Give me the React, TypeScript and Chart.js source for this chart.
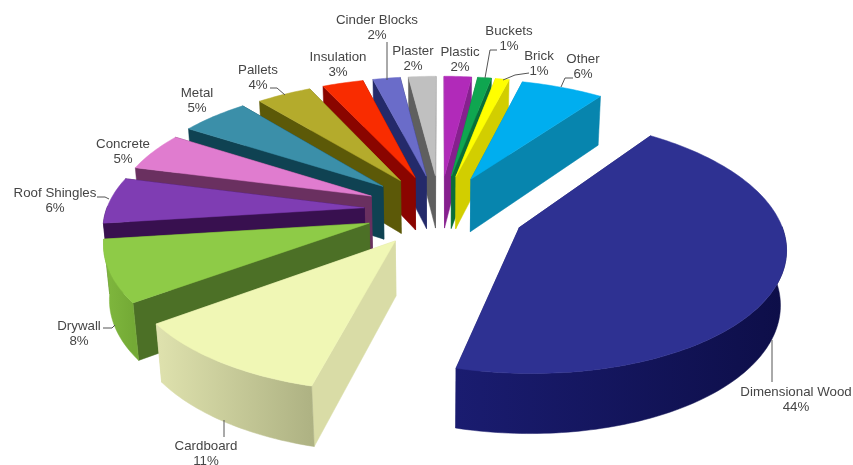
import React, { useEffect, useRef } from "react";
import { Chart, registerables } from "chart.js";

Chart.register(...registerables);

const categories = ["Plastic", "Buckets", "Brick", "Other", "Dimensional Wood", "Cardboard", "Drywall", "Roof Shingles", "Concrete", "Metal", "Pallets", "Insulation", "Cinder Blocks", "Plaster"];
const shares = [2, 1, 1, 6, 44, 11, 8, 6, 5, 5, 4, 3, 2, 2];

const topColors = ["#b12ab9", "#0fa650", "#ffff00", "#00aeef", "#2e3192", "#f0f7b5", "#8ecb47", "#7f3db3", "#e07ccf", "#3b8fa9", "#b4ab2c", "#f92c00", "#6a6cc9", "#c0c0c0"];
const radialWallColors = ["#86208e", "#0a6e38", "#d2ce00", "#0785ae", "#1a1c6a", "#d9dca6", "#4c7026", "#38104f", "#6a3060", "#0f4252", "#5c5908", "#8a0500", "#242a6a", "#5f5f5f"];
const outerWallLeft = ["#86208e", "#0a6e38", "#d2ce00", "#0785ae", "#1a1c70", "#dfe2ae", "#80b83e", "#38104f", "#6a3060", "#0f4252", "#5c5908", "#8a0500", "#242a6a", "#5f5f5f"];
const outerWallRight = ["#86208e", "#0a6e38", "#d2ce00", "#0785ae", "#0d0e48", "#aeb283", "#74aa36", "#38104f", "#6a3060", "#0f4252", "#5c5908", "#8a0500", "#242a6a", "#5f5f5f"];
const explosion = [76, 76, 76, 75, 86, 77, 75, 76, 76, 78, 76, 76, 76, 76];

const labelCenters = [[460, 52], [509, 31], [539, 56], [583, 59], [796, 392], [206, 446], [79, 326], [55, 193], [123, 144], [197, 93], [258, 70], [338, 57], [377, 20], [413, 51]];
const leaderLines: number[][][] = [
  [], [[497, 50], [490, 50], [485, 78]], [[529, 73], [515, 75], [503, 80]], [[573, 78], [565, 78], [561, 87]],
  [[772, 340], [772, 382]], [[224, 420], [224, 437]], [[103, 328], [112, 328], [115, 325]], [[97, 197], [105, 197], [109, 199]],
  [], [], [[270, 88], [277, 88], [285, 95]], [], [[387, 42], [387, 80]], [],
];

const RADIUS = 258;
const DEPTH = 62;
const CAMERA = 1700;
const TILT = Math.asin(0.47);

const pie3d = {
  id: "pie3d",
  beforeDatasetsDraw(chart: any) {
    const ctx: CanvasRenderingContext2D = chart.ctx;
    const arcs = chart.getDatasetMeta(0).data;
    const project = (cx: number, cy: number, u: number, v: number, z: number) => {
      const w = v * Math.cos(TILT) + z * Math.sin(TILT);
      const s = CAMERA / (CAMERA - w);
      return [cx + u * s, cy + (v * Math.sin(TILT) - z * Math.cos(TILT)) * s];
    };
    const poly = (pts: number[][], fill: any) => {
      ctx.beginPath();
      pts.forEach((p, k) => (k ? ctx.lineTo(p[0], p[1]) : ctx.moveTo(p[0], p[1])));
      ctx.closePath();
      ctx.fillStyle = fill;
      ctx.strokeStyle = fill;
      ctx.lineWidth = 0.5;
      ctx.fill();
      ctx.stroke();
    };
    const order = arcs
      .map((_: any, i: number) => i)
      .sort((a: number, b: number) => {
        const m = (k: number) => Math.sin((arcs[k].startAngle + arcs[k].endAngle) / 2);
        return m(a) - m(b);
      });
    order.forEach((i: number) => {
      const { x, y, startAngle, endAngle } = arcs[i].getProps(["x", "y", "startAngle", "endAngle"], true);
      const R = RADIUS;
      const mid = (startAngle + endAngle) / 2;
      const ox = Math.cos(mid) * explosion[i];
      const oy = Math.sin(mid) * explosion[i];
      const model: number[][] = [];
      const steps = Math.max(4, Math.ceil((endAngle - startAngle) / 0.02));
      for (let k = 0; k <= steps; k++) {
        const a = startAngle + ((endAngle - startAngle) * k) / steps;
        model.push([ox + R * Math.cos(a), oy + R * Math.sin(a), a]);
      }
      const P = (m: number[], z: number) => project(x, y, m[0], m[1], z);
      const apex = [ox, oy];
      const first = model[0];
      const last = model[model.length - 1];
      const front = model.filter((m) => Math.sin(m[2]) > -0.02);
      const walls: { depth: number; draw: () => void }[] = [
        { depth: (apex[1] + first[1]) / 2, draw: () => poly([P(apex, 0), P(first, 0), P(first, -DEPTH), P(apex, -DEPTH)], radialWallColors[i]) },
        { depth: (apex[1] + last[1]) / 2, draw: () => poly([P(apex, 0), P(last, 0), P(last, -DEPTH), P(apex, -DEPTH)], radialWallColors[i]) },
      ];
      if (front.length > 1) {
        walls.push({
          depth: front.reduce((s, m) => s + m[1], 0) / front.length,
          draw: () => {
            const tops = front.map((m) => P(m, 0));
            const bottoms = front.map((m) => P(m, -DEPTH)).reverse();
            const xs = tops.map((p) => p[0]);
            const g = ctx.createLinearGradient(Math.min(...xs), 0, Math.max(...xs), 0);
            g.addColorStop(0, outerWallLeft[i]);
            g.addColorStop(1, outerWallRight[i]);
            poly([...tops, ...bottoms], g);
          },
        });
      }
      walls.sort((a, b) => a.depth - b.depth).forEach((w) => w.draw());
      poly([P(apex, 0), ...model.map((m) => P(m, 0))], topColors[i]);
    });

    ctx.textAlign = "center";
    ctx.textBaseline = "middle";
    ctx.font = '13.3px "Liberation Sans"';
    categories.forEach((name, i) => {
      const [lx, ly] = labelCenters[i];
      ctx.fillStyle = "#454545";
      ctx.fillText(name, lx, ly);
      ctx.fillText(shares[i] + "%", lx, ly + 15);
      const line = leaderLines[i];
      if (line.length) {
        ctx.beginPath();
        line.forEach((p, k) => (k ? ctx.lineTo(p[0], p[1]) : ctx.moveTo(p[0], p[1])));
        ctx.strokeStyle = "#555555";
        ctx.lineWidth = 1;
        ctx.stroke();
      }
    });
    return false;
  },
};

export default function App() {
  const ref = useRef<HTMLCanvasElement>(null);
  useEffect(() => {
    const chart = new Chart(ref.current!, {
      type: "pie",
      data: { labels: categories, datasets: [{ data: shares, backgroundColor: topColors, borderWidth: 0 }] },
      options: {
        responsive: false,
        animation: false,
        layout: { padding: { left: 27, bottom: 45 } },
        plugins: { legend: { display: false }, tooltip: { enabled: false } },
      },
      plugins: [pie3d],
    } as any);
    return () => chart.destroy();
  }, []);
  return (
    <div style={{ position: "fixed", left: 0, top: 0, width: 853, height: 465, background: "#fff" }}>
      <canvas ref={ref} width={853} height={465} style={{ display: "block", filter: "blur(0.45px)" }} />
    </div>
  );
}
